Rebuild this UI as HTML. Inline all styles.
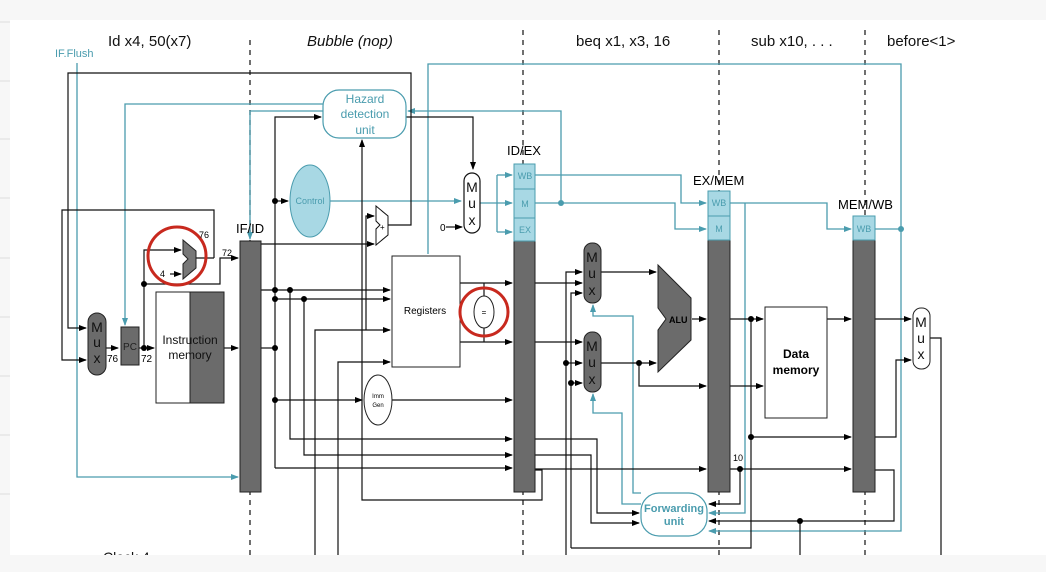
<!DOCTYPE html>
<html><head><meta charset="utf-8"><style>
html,body{margin:0;padding:0;background:#f7f7f7;}
svg{display:block;font-family:"Liberation Sans",sans-serif;}
</style></head><body>
<svg width="1046" height="572" viewBox="0 0 1046 572" xmlns="http://www.w3.org/2000/svg">
<defs>
<marker id="a" markerWidth="8" markerHeight="6" refX="7" refY="3" orient="auto" markerUnits="userSpaceOnUse"><path d="M0,0 L8,3 L0,6 z" fill="#000"/></marker>
<marker id="t" markerWidth="8" markerHeight="6" refX="7" refY="3" orient="auto" markerUnits="userSpaceOnUse"><path d="M0,0 L8,3 L0,6 z" fill="#4a9cae"/></marker>
</defs>
<rect x="0" y="0" width="1046" height="572" fill="#f7f7f7"/>
<rect x="10" y="20" width="1036" height="535" fill="#fff"/>
<g stroke="#ddd" stroke-width="1">
<line x1="0" y1="22" x2="10" y2="22"/><line x1="0" y1="81" x2="10" y2="81"/><line x1="0" y1="139" x2="10" y2="139"/><line x1="0" y1="198" x2="10" y2="198"/><line x1="0" y1="258" x2="10" y2="258"/><line x1="0" y1="317" x2="10" y2="317"/><line x1="0" y1="376" x2="10" y2="376"/><line x1="0" y1="435" x2="10" y2="435"/><line x1="0" y1="494" x2="10" y2="494"/>
</g>

<!-- titles -->
<g font-size="15" fill="#111">
<text x="108" y="46">Id x4, 50(x7)</text>
<text x="307" y="46" font-style="italic">Bubble (nop)</text>
<text x="576" y="46">beq x1, x3, 16</text>
<text x="751" y="46">sub x10, . . .</text>
<text x="887" y="46">before&lt;1&gt;</text>
</g>
<text x="55" y="57" font-size="11" fill="#4a9cae">IF.Flush</text>
<text x="103" y="562" font-size="14" fill="#111">Clock 4</text>
<rect x="10" y="555" width="1036" height="17" fill="#f7f7f7"/>

<!-- dashed lines -->
<g stroke="#222" stroke-width="1.3" stroke-dasharray="5,5">
<line x1="250" y1="40" x2="250" y2="555"/>
<line x1="523" y1="30" x2="523" y2="555"/>
<line x1="719" y1="30" x2="719" y2="555"/>
<line x1="865" y1="30" x2="865" y2="555"/>
</g>

<!-- teal wiring -->
<g stroke="#4a9cae" stroke-width="1.3" fill="none">
<polyline points="77,63 77,477 238,477" marker-end="url(#t)"/>
<polyline points="323,104 125,104 125,325" marker-end="url(#t)"/>
<polyline points="323,111 250,111 250,239" marker-end="url(#t)"/>
<polyline points="561,203 561,111 408,111" marker-end="url(#t)"/>
<polyline points="428,254 428,64 901,64 901,531 709,531" marker-end="url(#t)"/>
<line x1="330" y1="201" x2="461" y2="201" marker-end="url(#t)"/>
<line x1="480" y1="203" x2="512" y2="203" marker-end="url(#t)"/>
<polyline points="497,175 497,232"/>
<line x1="497" y1="175" x2="512" y2="175" marker-end="url(#t)"/>
<line x1="497" y1="232" x2="512" y2="232" marker-end="url(#t)"/>
<polyline points="535,175 681,175 681,203 706,203" marker-end="url(#t)"/>
<polyline points="535,203 675,203 675,229 706,229" marker-end="url(#t)"/>
<polyline points="730,203 827,203 827,229 851,229" marker-end="url(#t)"/>
<line x1="875" y1="229" x2="901" y2="229"/>
<polyline points="745,203 745,513 709,513" marker-end="url(#t)"/>
<polyline points="641,493 633,493 633,316 593,316 593,305" marker-end="url(#t)"/>
<polyline points="641,504 622,504 622,413 593,413 593,394" marker-end="url(#t)"/>
</g>
<circle cx="561" cy="203" r="3" fill="#4a9cae"/>
<circle cx="901" cy="229" r="3" fill="#4a9cae"/>

<!-- black wiring -->
<g stroke="#111" stroke-width="1.2" fill="none">
<polyline points="385,225 411,225 411,73 68,73 68,328 86,328" marker-end="url(#a)"/>
<polyline points="214,258 214,210 62,210 62,360 86,360" marker-end="url(#a)"/>
<line x1="106" y1="348" x2="118" y2="348" marker-end="url(#a)"/>
<line x1="139" y1="348" x2="154" y2="348" marker-end="url(#a)"/>
<polyline points="144,348 144,250 181,250" marker-end="url(#a)"/>
<polyline points="144,284 220,284 220,258 238,258" marker-end="url(#a)"/>
<line x1="196" y1="258" x2="214" y2="258"/>
<line x1="170" y1="274" x2="181" y2="274" marker-end="url(#a)"/>
<line x1="224" y1="348" x2="238" y2="348" marker-end="url(#a)"/>
<polyline points="275,468 275,117 321,117" marker-end="url(#a)"/>
<line x1="275" y1="201" x2="288" y2="201" marker-end="url(#a)"/>
<polyline points="406,117 473,117 473,169" marker-end="url(#a)"/>
<line x1="446" y1="227" x2="462" y2="227" marker-end="url(#a)"/>
<line x1="261" y1="244" x2="374" y2="244" marker-end="url(#a)"/>
<polyline points="366,330 366,216 374,216" marker-end="url(#a)"/>
<line x1="261" y1="348" x2="275" y2="348"/>
<line x1="261" y1="290" x2="390" y2="290" marker-end="url(#a)"/>
<line x1="275" y1="299" x2="390" y2="299" marker-end="url(#a)"/>
<polyline points="315,555 315,330 390,330" marker-end="url(#a)"/>
<polyline points="338,555 338,362 390,362" marker-end="url(#a)"/>
<line x1="275" y1="400" x2="362" y2="400" marker-end="url(#a)"/>
<line x1="392" y1="400" x2="512" y2="400" marker-end="url(#a)"/>
<polyline points="290,290 290,439 512,439" marker-end="url(#a)"/>
<polyline points="304,299 304,455 512,455" marker-end="url(#a)"/>
<line x1="275" y1="468" x2="512" y2="468" marker-end="url(#a)"/>
<polyline points="535,470 542,470 542,500 362,500 362,140" marker-end="url(#a)"/>
<line x1="460" y1="283" x2="512" y2="283" marker-end="url(#a)"/>
<line x1="460" y1="342" x2="512" y2="342" marker-end="url(#a)"/>
<line x1="484" y1="283" x2="484" y2="342"/>
<line x1="535" y1="283" x2="582" y2="283" marker-end="url(#a)"/>
<polyline points="566,555 566,272 582,272" marker-end="url(#a)"/>
<polyline points="571,548 571,293 582,293" marker-end="url(#a)"/>
<polyline points="571,548 751,548 751,319"/>
<line x1="535" y1="342" x2="582" y2="342" marker-end="url(#a)"/>
<line x1="566" y1="363" x2="582" y2="363" marker-end="url(#a)"/>
<line x1="571" y1="383" x2="582" y2="383" marker-end="url(#a)"/>
<line x1="601" y1="272" x2="656" y2="272" marker-end="url(#a)"/>
<line x1="601" y1="363" x2="656" y2="363" marker-end="url(#a)"/>
<polyline points="639,363 639,386 706,386" marker-end="url(#a)"/>
<line x1="692" y1="319" x2="706" y2="319" marker-end="url(#a)"/>
<line x1="730" y1="319" x2="763" y2="319" marker-end="url(#a)"/>
<line x1="730" y1="386" x2="763" y2="386" marker-end="url(#a)"/>
<line x1="751" y1="437" x2="851" y2="437" marker-end="url(#a)"/>
<line x1="827" y1="319" x2="851" y2="319" marker-end="url(#a)"/>
<line x1="875" y1="319" x2="911" y2="319" marker-end="url(#a)"/>
<polyline points="875,437 896,437 896,360 911,360" marker-end="url(#a)"/>
<polyline points="930,338 941,338 941,555"/>
<line x1="535" y1="469" x2="706" y2="469" marker-end="url(#a)"/>
<line x1="730" y1="469" x2="851" y2="469" marker-end="url(#a)"/>
<polyline points="740,469 740,504 709,504" marker-end="url(#a)"/>
<polyline points="875,470 894,470 894,521 709,521" marker-end="url(#a)"/>
<line x1="800" y1="521" x2="800" y2="555"/>
<polyline points="535,439 597,439 597,513 639,513" marker-end="url(#a)"/>
<polyline points="535,455 591,455 591,523 639,523" marker-end="url(#a)"/>
</g>
<g fill="#000">
<circle cx="144" cy="348" r="3"/><circle cx="144" cy="284" r="3"/>
<circle cx="275" cy="201" r="3"/><circle cx="275" cy="348" r="3"/><circle cx="275" cy="290" r="3"/><circle cx="290" cy="290" r="3"/>
<circle cx="275" cy="299" r="3"/><circle cx="304" cy="299" r="3"/><circle cx="275" cy="400" r="3"/>
<circle cx="566" cy="363" r="3"/><circle cx="571" cy="383" r="3"/><circle cx="639" cy="363" r="3"/>
<circle cx="751" cy="319" r="3"/><circle cx="751" cy="437" r="3"/><circle cx="740" cy="469" r="3"/><circle cx="800" cy="521" r="3"/>
</g>

<!-- components -->
<rect x="323" y="90" width="83" height="48" rx="16" fill="#fff" stroke="#4a9cae" stroke-width="1.2"/>
<g font-size="12" fill="#4a9cae" text-anchor="middle"><text x="365" y="103">Hazard</text><text x="365" y="118">detection</text><text x="365" y="134">unit</text></g>
<ellipse cx="310" cy="201" rx="20" ry="36" fill="#a8d8e4" stroke="#4a9cae"/>
<text x="310" y="204" font-size="9" fill="#4a9cae" text-anchor="middle">Control</text>
<rect x="464" y="173" width="16" height="60" rx="8" fill="#fff" stroke="#111" stroke-width="1.2"/>
<g font-size="14" text-anchor="middle" fill="#111"><text x="472" y="192">M</text><text x="472" y="208">u</text><text x="472" y="225">x</text></g>
<text x="440" y="231" font-size="10">0</text>
<polygon points="376,206 388,216 388,235 376,245 376,229 380,225 376,221" fill="#fff" stroke="#111"/>
<text x="380" y="230" font-size="8">+</text>

<!-- IF/ID -->
<rect x="240" y="241" width="21" height="251" fill="#6b6b6b" stroke="#222"/>
<text x="236" y="233" font-size="13">IF/ID</text>
<!-- PC adder -->
<polygon points="183,240 196,251 196,268 183,279 183,264 188,259 183,254" fill="#777" stroke="#222"/>
<circle cx="177" cy="256" r="29" fill="none" stroke="#c8291e" stroke-width="3"/>
<text x="199" y="238" font-size="9">76</text><text x="222" y="256" font-size="9">72</text><text x="160" y="277" font-size="9">4</text>
<rect x="88" y="313" width="18" height="62" rx="9" fill="#6b6b6b" stroke="#222"/>
<g font-size="14" text-anchor="middle" fill="#111"><text x="97" y="332">M</text><text x="97" y="347">u</text><text x="97" y="363">x</text></g>
<rect x="121" y="327" width="18" height="38" fill="#6b6b6b" stroke="#222"/>
<text x="130" y="350" font-size="10" text-anchor="middle" fill="#222">PC</text>
<text x="107" y="362" font-size="10">76</text><text x="141" y="362" font-size="10">72</text>
<rect x="156" y="292" width="68" height="111" fill="#fff" stroke="#222"/>
<rect x="190" y="292" width="34" height="111" fill="#6b6b6b" stroke="#222"/>
<g font-size="12" text-anchor="middle" fill="#111"><text x="190" y="344">Instruction</text><text x="190" y="359">memory</text></g>

<rect x="392" y="256" width="68" height="111" fill="#fff" stroke="#222"/>
<text x="425" y="314" font-size="10" text-anchor="middle">Registers</text>
<ellipse cx="484" cy="312" rx="10" ry="16" fill="#fff" stroke="#222"/>
<text x="484" y="315" font-size="8" text-anchor="middle">=</text>
<circle cx="484" cy="312" r="24" fill="none" stroke="#c8291e" stroke-width="3"/>
<ellipse cx="378" cy="400" rx="14" ry="25" fill="#fff" stroke="#222"/>
<text x="378" y="398" font-size="6" text-anchor="middle">Imm</text><text x="378" y="407" font-size="6" text-anchor="middle">Gen</text>

<!-- ID/EX -->
<rect x="514" y="241" width="21" height="251" fill="#6b6b6b" stroke="#222"/>
<rect x="514" y="164" width="21" height="77" fill="#a8d8e4" stroke="#4a9cae"/>
<line x1="514" y1="189" x2="535" y2="189" stroke="#4a9cae"/><line x1="514" y1="218" x2="535" y2="218" stroke="#4a9cae"/>
<g font-size="9" fill="#4a9cae" text-anchor="middle"><text x="525" y="179">WB</text><text x="525" y="207">M</text><text x="525" y="233">EX</text></g>
<text x="507" y="155" font-size="13">ID/EX</text>

<rect x="584" y="243" width="17" height="60" rx="8" fill="#6b6b6b" stroke="#222"/>
<g font-size="14" text-anchor="middle" fill="#111"><text x="592" y="262">M</text><text x="592" y="278">u</text><text x="592" y="295">x</text></g>
<rect x="584" y="332" width="17" height="60" rx="8" fill="#6b6b6b" stroke="#222"/>
<g font-size="14" text-anchor="middle" fill="#111"><text x="592" y="351">M</text><text x="592" y="367">u</text><text x="592" y="384">x</text></g>
<polygon points="658,265 691,298 691,340 658,372 658,330 666,319 658,308" fill="#6b6b6b" stroke="#222"/>
<text x="669" y="323" font-size="9" font-weight="bold">ALU</text>

<!-- EX/MEM -->
<rect x="708" y="240" width="22" height="252" fill="#6b6b6b" stroke="#222"/>
<rect x="708" y="191" width="22" height="49" fill="#a8d8e4" stroke="#4a9cae"/>
<line x1="708" y1="216" x2="730" y2="216" stroke="#4a9cae"/>
<g font-size="9" fill="#4a9cae" text-anchor="middle"><text x="719" y="206">WB</text><text x="719" y="232">M</text></g>
<text x="693" y="185" font-size="13">EX/MEM</text>
<text x="733" y="461" font-size="9">10</text>

<rect x="765" y="307" width="62" height="111" fill="#fff" stroke="#222"/>
<g font-size="12" font-weight="bold" text-anchor="middle"><text x="796" y="358">Data</text><text x="796" y="374">memory</text></g>

<!-- MEM/WB -->
<rect x="853" y="240" width="22" height="252" fill="#6b6b6b" stroke="#222"/>
<rect x="853" y="216" width="22" height="24" fill="#a8d8e4" stroke="#4a9cae"/>
<text x="864" y="232" font-size="9" fill="#4a9cae" text-anchor="middle">WB</text>
<text x="838" y="209" font-size="13">MEM/WB</text>

<rect x="913" y="308" width="17" height="61" rx="8" fill="#fff" stroke="#222"/>
<g font-size="14" text-anchor="middle" fill="#111"><text x="921" y="327">M</text><text x="921" y="343">u</text><text x="921" y="359">x</text></g>

<rect x="641" y="493" width="66" height="43" rx="18" fill="#fff" stroke="#4a9cae" stroke-width="1.2"/>
<g font-size="11" font-weight="bold" fill="#4a9cae" text-anchor="middle"><text x="674" y="512">Forwarding</text><text x="674" y="525">unit</text></g>
</svg>
</body></html>
